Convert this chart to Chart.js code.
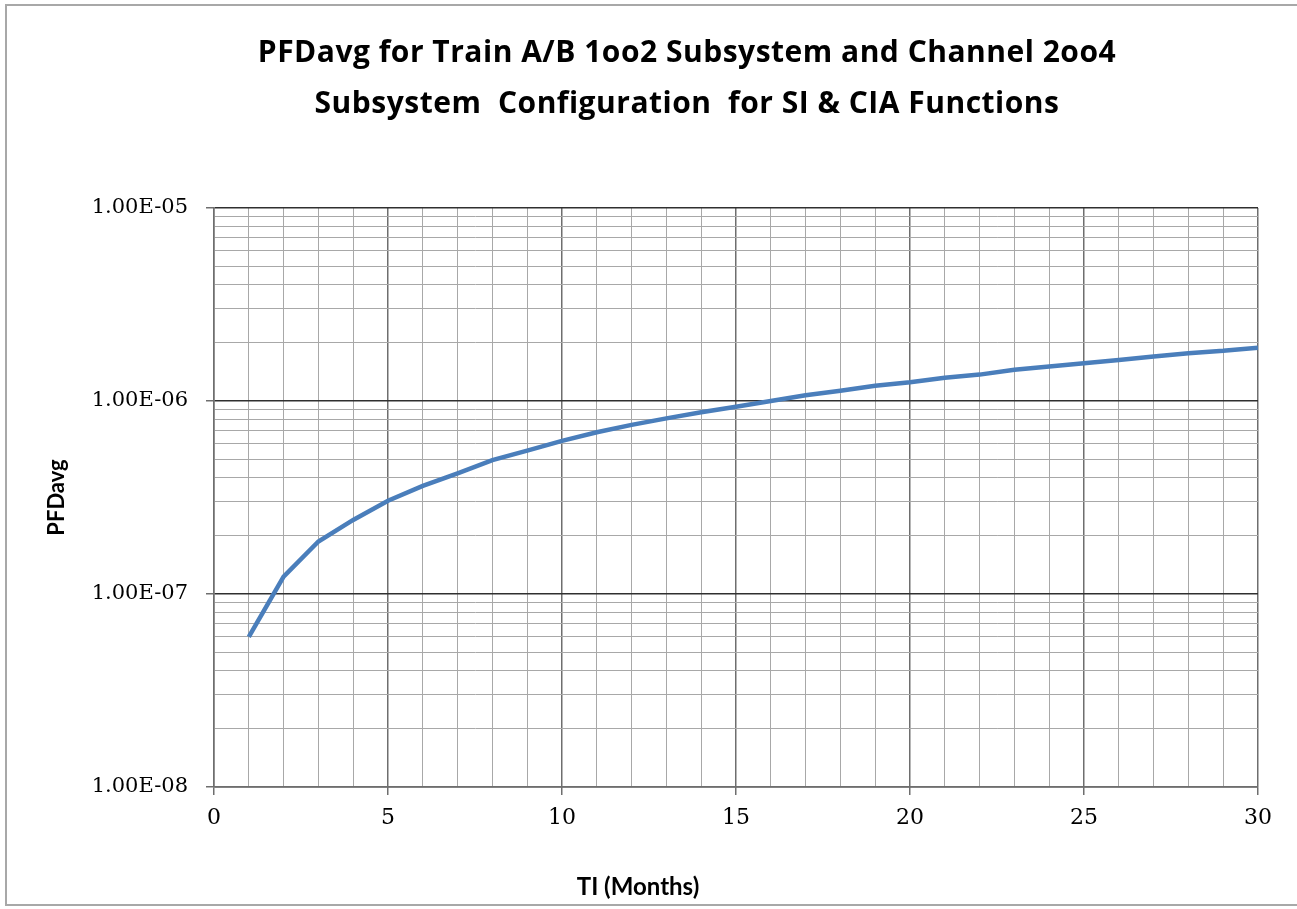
<!DOCTYPE html>
<html>
<head>
<meta charset="utf-8">
<script src="https://cdn.jsdelivr.net/npm/chart.js@4/dist/chart.umd.min.js"></script>
<style>
  html, body { margin: 0; padding: 0; background: #fff; overflow: hidden; }
  #wrap { position: relative; width: 1297px; height: 909px; overflow: hidden; background: #fff; }
  #frame { position: absolute; left: 5px; top: 4px; width: 1400px; height: 898px; border: 2px solid #a8a8a8; border-right: none; pointer-events: none; }
  .title { position: absolute; left: 0; width: 1374px; text-align: center; font-family: "Open Sans", Lato, sans-serif; font-weight: bold; font-size: 30px; letter-spacing: 0.5px; line-height: 51px; color: #000; white-space: pre; }
  #xtitle { position: absolute; left: 538px; width: 200px; top: 871px; text-align: center; font-family: Lato, sans-serif; font-weight: bold; font-size: 24px; line-height: 30px; color: #000; white-space: pre; }
  canvas { position: absolute; left: 0; top: 0; }
</style>
</head>
<body>
<div id="wrap">
  <canvas id="c" width="1297" height="909"></canvas>
  <div class="title" id="t1" style="top:25px">PFDavg for Train A/B 1oo2 Subsystem and Channel 2oo4</div>
  <div class="title" id="t2" style="top:76px">Subsystem  Configuration  for SI &amp; CIA Functions</div>
  <div id="xtitle">TI (Months)</div>
  <div id="frame"></div>
</div>
<script>
// ---- data ----
const months = [1, 2, 3, 4, 5, 6, 7, 8, 9, 10, 11, 12, 13, 14, 15, 16, 17, 18, 19, 20, 21, 22, 23, 24, 25, 26, 27, 28, 29, 30];
const pfdavg = [6.0e-8, 1.23e-7, 1.87e-7, 2.42e-7, 3.04e-7, 3.63e-7, 4.22e-7, 4.94e-7, 5.53e-7, 6.21e-7,
                6.89e-7, 7.52e-7, 8.13e-7, 8.74e-7, 9.34e-7, 1.00e-6, 1.07e-6, 1.13e-6, 1.20e-6, 1.25e-6,
                1.32e-6, 1.37e-6, 1.45e-6, 1.51e-6, 1.57e-6, 1.63e-6, 1.70e-6, 1.77e-6, 1.82e-6, 1.89e-6];
const xTickLabels = ['0', '5', '10', '15', '20', '25', '30'];
const yTickLabels = ['1.00E-08', '1.00E-07', '1.00E-06', '1.00E-05'];
const yAxisTitle = 'PFDavg';
const seriesName = 'PFDavg';

function isDecade(v) {
  const l = Math.log10(v);
  return Math.abs(l - Math.round(l)) < 1e-9;
}

const points = months.map((m, i) => ({ x: m, y: pfdavg[i] }));

new Chart(document.getElementById('c'), {
  type: 'line',
  data: {
    datasets: [{
      label: seriesName,
      data: points,
      borderColor: '#4a7ebb',
      backgroundColor: '#4a7ebb',
      borderWidth: 4.5,
      pointRadius: 0,
      tension: 0,
      fill: false
    }]
  },
  options: {
    responsive: false,
    animation: false,
    devicePixelRatio: 1,
    layout: { padding: { top: 208, right: 39, left: 0, bottom: 0 } },
    plugins: { legend: { display: false }, tooltip: { enabled: false }, title: { display: false } },
    scales: {
      x: {
        type: 'linear',
        min: 0,
        max: 30,
        afterFit: s => { s.height = 122; },
        ticks: {
          stepSize: 1,
          autoSkip: false,
          maxRotation: 0,
          padding: 10,
          color: '#000',
          font: { family: '"DejaVu Serif", serif', size: 22 },
          callback: v => (v % 5 === 0 ? xTickLabels[v / 5] : '')
        },
        grid: {
          color: ctx => (ctx.tick && ctx.tick.value % 5 === 0 ? '#6e6e6e' : '#a8a8a8'),
          lineWidth: ctx => (ctx.tick && ctx.tick.value % 5 === 0 ? 1.5 : 1),
          tickLength: 8,
          tickColor: ctx => (ctx.tick && ctx.tick.value % 5 === 0 ? '#6e6e6e' : 'rgba(0,0,0,0)')
        },
        border: { color: '#6e6e6e', width: 1.5 }
      },
      y: {
        type: 'logarithmic',
        min: 1e-8,
        max: 1e-5,
        afterFit: s => { s.width = 214; },
        afterBuildTicks: s => {
          const t = [];
          for (let e = -8; e <= -5; e++) {
            for (let k = 1; k <= 9; k++) {
              if (e === -5 && k > 1) break;
              t.push({ value: parseFloat((k + 'e' + e)) });
            }
          }
          s.ticks = t;
        },
        title: {
          display: true,
          text: yAxisTitle,
          color: '#000',
          font: { family: 'Lato, sans-serif', size: 22, weight: 'bold' },
          padding: { top: 44, bottom: 0 }
        },
        ticks: {
          autoSkip: false,
          padding: 18,
          color: '#000',
          font: { family: '"DejaVu Serif", serif', size: 21 },
          callback: v => (isDecade(v) ? yTickLabels[Math.round(Math.log10(v)) + 8] : '')
        },
        grid: {
          color: ctx => (ctx.tick && isDecade(ctx.tick.value) ? '#303030' : '#a8a8a8'),
          lineWidth: ctx => (ctx.tick && isDecade(ctx.tick.value) ? 1.5 : 1),
          tickLength: 8,
          tickColor: ctx => (ctx.tick && isDecade(ctx.tick.value) ? '#6e6e6e' : 'rgba(0,0,0,0)')
        },
        border: { color: '#6e6e6e', width: 1.5 }
      }
    }
  }
});
</script>
</body>
</html>
